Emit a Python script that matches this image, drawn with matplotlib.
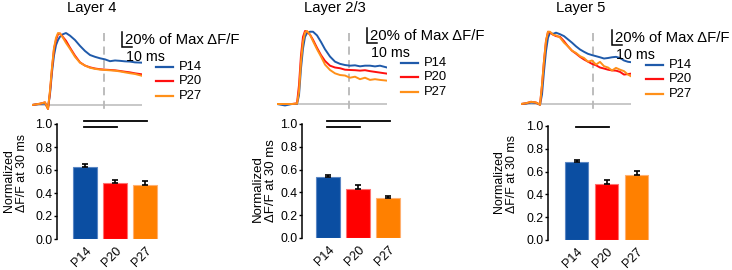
import matplotlib
matplotlib.use("Agg")
import matplotlib.pyplot as plt

plt.rcParams['font.family'] = ['Liberation Sans', 'DejaVu Sans']

W, H = 732, 270

# ---------------- data ----------------
groups = ["P14", "P20", "P27"]
layers = ["Layer 4", "Layer 2/3", "Layer 5"]

# traces: time (ms, relative to response onset) and % of max dF/F
t_L4 = [-16, -8, -3, 0, 2, 4, 6, 8, 10, 12, 15, 18, 22, 27, 32, 37, 42, 47, 52, 57, 62, 67, 72, 77, 82, 87, 94]
p14_L4 = [0, 1.5, 2, -4, 15, 45, 68, 82, 89, 93.6, 97, 98.6, 95, 89, 81, 74, 68.5, 66, 64, 62.5, 60, 61, 60.5, 59.8, 59.5, 58.4, 58]
p20_L4 = [0, 1.8, 3.6, -5.5, 18, 50, 77, 89, 97, 98, 93, 88, 78.5, 67.6, 58.4, 54, 51.6, 50, 49, 48.4, 48, 47.5, 46.6, 45.6, 44.7, 43.4, 42]
p27_L4 = [0, 1.8, 3.6, -5.5, 20, 52, 78, 92, 98.6, 98, 92, 85, 77, 66, 58, 54, 51, 49.5, 48.5, 48, 47.5, 47, 46, 44.7, 43.5, 42.5, 40]

t_L23 = [-21, -13, -6, -1, 1, 3, 5, 7, 9, 12, 15, 19, 23, 27, 32, 37, 42, 47, 52, 57, 62, 67, 72, 77, 82, 89]
p14_L23 = [0, -2, 0, 0, 12, 49, 76, 92, 97, 99, 99, 94, 85, 75, 65, 58, 55, 53.4, 52.5, 53, 51.6, 52.5, 52.5, 51.5, 52.5, 50]
p20_L23 = [0, 0, 0, 1, 26, 67, 92, 100, 99, 95, 88, 77, 67, 59, 52.5, 50, 49, 47, 46.6, 46.3, 45.7, 46.3, 45, 44, 43, 41.6]
p27_L23 = [0, 0, 0, 0.5, 17, 58, 85, 98, 100, 95, 86, 75, 65, 54, 46.6, 42, 39.7, 39, 36, 37.4, 34, 36, 33, 34, 33, 32]

t_L5 = [-20, -15, -10, -5, -1, 1, 3, 5, 7, 9, 12, 15, 19, 23, 27, 31, 35, 39, 43, 47, 51, 55, 59, 63, 67, 71, 75, 79, 83, 87, 90]
p14_L5 = [0, 0.5, 2, 1.5, -1, 13, 45, 72.5, 90.7, 97.7, 96, 97.7, 95.6, 93, 88.5, 84, 79, 74.7, 71.5, 68.7, 67, 65.5, 64, 62.3, 63, 64, 64.6, 63, 59.6, 57.8, 57.3]
p20_L5 = [0, 1, 3, 2, -1, 26, 59, 86.5, 99, 97.7, 95, 93, 92, 86, 79, 73, 69, 64.6, 61, 58, 55, 53, 50, 48.6, 47, 46, 45.7, 44, 40.3, 41, 41.6]
p27_L5 = [0, 1, 3, 2, -1, 26, 59, 86.5, 99, 99, 95, 94, 91, 84, 79, 73, 70, 65.5, 63, 58, 59.6, 54, 57.7, 51.8, 50, 45.9, 49.5, 47, 45, 40.3, 38]

dash_time = [56, 51, 52]          # analysis time marker (ms)

# bars: normalized dF/F at 30 ms (mean, SEM)
bar_L4 = [0.625, 0.485, 0.47]
err_L4 = [0.025, 0.03, 0.033]
bar_L23 = [0.536, 0.431, 0.347]
err_L23 = [0.018, 0.035, 0.025]
bar_L5 = [0.685, 0.487, 0.568]
err_L5 = [0.02, 0.038, 0.04]

sig_L4 = [(0, 1), (0, 2)]
sig_L23 = [(0, 1), (0, 2)]
sig_L5 = [(0, 1)]

# ---------------- style ----------------
trace_colors = ["#1f5aaa", "#ff1010", "#ff9019"]
bar_colors = ["#0b4ea2", "#ff0000", "#ff8000"]
bar_edges = ["#5a86c4", "#ff7070", "#ffb070"]

fig = plt.figure(figsize=(W / 100, H / 100), dpi=100)


def box(x0, y0, x1, y1):
    return [x0 / W, 1 - y1 / H, (x1 - x0) / W, (y1 - y0) / H]


traces = [
    (t_L4, [p14_L4, p20_L4, p27_L4]),
    (t_L23, [p14_L23, p20_L23, p27_L23]),
    (t_L5, [p14_L5, p20_L5, p27_L5]),
]
bars = [(bar_L4, err_L4, sig_L4), (bar_L23, err_L23, sig_L23), (bar_L5, err_L5, sig_L5)]

trace_px = [(32, 142, 105), (277, 387, 104), (521, 631, 104)]
title_x = [92, 335, 581]
bar_axes_px = [(57, 124, 239, 85), (302, 124, 238, 328), (548, 126, 240, 576.5)]
sig_heights = [[0.974, 1.026], [0.97, 1.03], [0.99]]
scale_pos = [(74, 79.5), (69, 83.6), (71, 80.8)]
ylabel_style = [(8.9, 5.0, 0.57), (9.5, 2.7, 0.5), (8.9, 6.0, 0.575)]
S = 0.73  # px per % unit

for i in range(3):
    t, ys = traces[i]
    x0, x1, base = trace_px[i]
    ax = fig.add_axes(box(x0, 20, x1, 115))
    ax.set_xlim(t[0], t[-1])
    ax.set_ylim((base - 115) / S, (base - 20) / S)
    ax.axis("off")
    ax.plot([t[0], t[-1]], [0, 0], color="#c4c4c4", lw=1.3, zorder=1)
    td = dash_time[i]
    ax.plot([td, td], [(base - 33) / S, (base - 114) / S], color="#b8b8b8",
            lw=1.3, dashes=(4.5, 3), clip_on=False, zorder=1)
    for y, c in zip(ys, trace_colors):
        ax.plot(t, y, color=c, lw=1.4, zorder=3, solid_joinstyle="round")
    ts, vs = scale_pos[i]
    ax.plot([ts, ts, ts + 10], [vs + 20, vs, vs], color="black", lw=1.1,
            clip_on=False, solid_joinstyle="miter")
    ax.text(ts + 3, vs + 10, "20% of Max ΔF/F", fontsize=10.7, va="center",
            ha="left", clip_on=False)
    ax.text(ts + 4, vs - 13.5, "10 ms", fontsize=10.3, va="center",
            ha="left", clip_on=False)
    for k, (g, c) in enumerate(zip(groups, trace_colors)):
        yy = vs - 13.5 - 13.5 - k * 19.8
        ax.plot([ts + 34, ts + 51], [yy, yy], color=c, lw=1.6, clip_on=False)
        ax.text(ts + 57, yy, g, fontsize=9.4, va="center", ha="left",
                clip_on=False)
    fig.text(title_x[i] / W, 1 - 8 / H, layers[i], fontsize=10.6,
             ha="center", va="center")

    # bar chart
    vals, errs, sigs = bars[i]
    sx, ytop, ybot, c0 = bar_axes_px[i]
    bx = fig.add_axes(box(sx, ytop, sx + 110, ybot))
    xs = list(range(len(groups)))
    bx.bar(xs, vals, width=0.77, color=bar_colors, edgecolor=bar_edges,
           linewidth=0.8, zorder=2)
    bx.errorbar(xs, vals, yerr=[[0] * len(errs), errs], fmt="none",
                ecolor="black", elinewidth=1.2, capsize=2.2, capthick=1.2,
                zorder=3)
    bx.set_xlim(-(c0 - sx) / 30, -(c0 - sx) / 30 + 110 / 30)
    bx.set_ylim(0, 1.0)
    bx.set_yticks([0, 0.2, 0.4, 0.6, 0.8, 1.0])
    bx.set_yticklabels(["0.0", "0.2", "0.4", "0.6", "0.8", "1.0"])
    bx.set_xticks(xs)
    bx.set_xticklabels(groups, rotation=45, ha="right", rotation_mode="anchor")
    for sp in ["top", "right", "bottom"]:
        bx.spines[sp].set_visible(False)
    bx.spines["left"].set_linewidth(1.1)
    bx.tick_params(axis="y", length=2, width=1.0, pad=1.2, labelsize=8.9)
    bx.tick_params(axis="x", length=0, pad=4, labelsize=9.0)
    fs, lp, ly = ylabel_style[i]
    bx.set_ylabel("Normalized\nΔF/F at 30 ms", fontsize=fs, labelpad=lp,
                  multialignment="left", linespacing=1.1)
    bx.yaxis.label.set_y(ly)
    bx.patch.set_visible(False)
    for (a, b_), h in zip(sigs, sig_heights[i]):
        bx.plot([a - 0.02, b_ + 0.08], [h, h], color="black", lw=1.3,
                clip_on=False)

fig.savefig("out.png", dpi=100)
